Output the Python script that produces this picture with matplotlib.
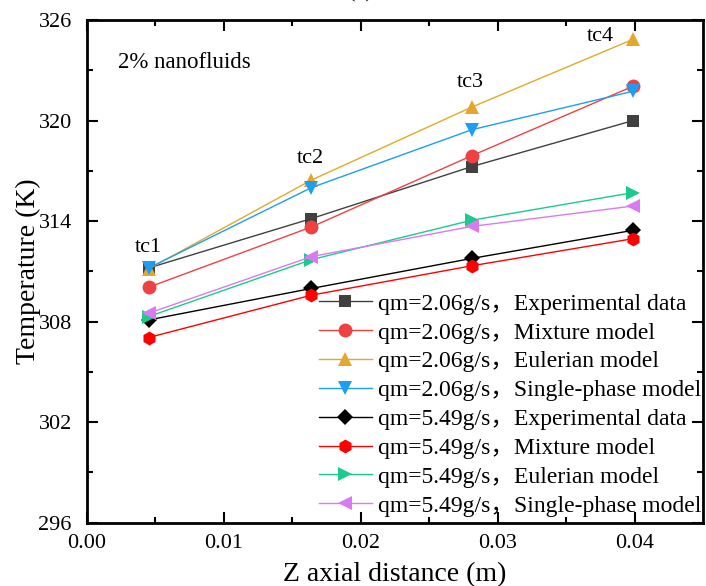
import numpy as np
import matplotlib
matplotlib.use("Agg")
import matplotlib.pyplot as plt

plt.rcParams['font.family'] = ['Liberation Serif', 'Noto Sans CJK SC']
plt.rcParams['mathtext.fontset'] = 'stix'

# axial positions of thermocouples tc1..tc4
z = [0.0045, 0.0164, 0.0281, 0.0399]
probe_names = ["tc1", "tc2", "tc3", "tc4"]

# qm = 2.06 g/s
exp_206 = [311.2, 314.15, 317.25, 320.0]
mix_206 = [310.05, 313.65, 317.9, 322.05]
eul_206 = [311.15, 316.45, 320.8, 324.85]
sp_206 = [311.2, 316.0, 319.45, 321.75]

# qm = 5.49 g/s
exp_549 = [308.1, 309.98, 311.77, 313.45]
mix_549 = [307.05, 309.58, 311.33, 312.95]
eul_549 = [308.3, 311.7, 314.05, 315.7]
sp_549 = [308.5, 311.88, 313.68, 314.9]

series = [
    (exp_206, "qm=2.06g/s，Experimental data", "#404040", "s"),
    (mix_206, "qm=2.06g/s，Mixture model", "#EF4141", "o"),
    (eul_206, "qm=2.06g/s，Eulerian model", "#E3A82B", "^"),
    (sp_206, "qm=2.06g/s，Single-phase model", "#1B9EF3", "v"),
    (exp_549, "qm=5.49g/s，Experimental data", "#000000", "D"),
    (mix_549, "qm=5.49g/s，Mixture model", "#FF0000", "h"),
    (eul_549, "qm=5.49g/s，Eulerian model", "#1CCB8C", ">"),
    (sp_549, "qm=5.49g/s，Single-phase model", "#D87BF2", "<"),
]

fig = plt.figure(figsize=(7.06, 5.86), dpi=100)
ax = fig.add_axes([0.1232, 0.108, 0.8726, 0.8579])

for vals, lab, col, mk in series:
    ms = 8 if mk == "D" else 10
    if mk == "s":
        ms = 9
    ax.plot(z, vals, color=col, marker=mk, markersize=ms, linewidth=1.0,
            markeredgewidth=0, label=lab)

# probe labels
label_y = [312.45, 317.75, 322.25, 325.0]
label_dx = [0.0, -0.0001, -0.0001, -0.0024]
for xi, yi, dx, name in zip(z, label_y, label_dx, probe_names):
    ax.text(xi + dx, yi, name, fontsize=16, ha='center', va='center')

ax.text(0.0023, 323.45, "2% nanofluids", fontsize=16.5, ha='left', va='center')

ax.set_xlim(0.0, 0.045)
ax.set_ylim(296, 326)
ax.set_xticks([0.00, 0.01, 0.02, 0.03, 0.04])
ax.set_xticklabels(["0.00", "0.01", "0.02", "0.03", "0.04"])
ax.set_xticks(np.arange(0.005, 0.045, 0.01), minor=True)
ax.set_yticks([296, 302, 308, 314, 320, 326])
ax.set_yticks([299, 305, 311, 317, 323], minor=True)

ax.tick_params(which='both', direction='in', top=True, right=True,
               labelsize=16, width=1.5)
ax.tick_params(which='major', length=8)
ax.tick_params(which='minor', length=4)
ax.tick_params(axis='x', pad=8)
ax.tick_params(axis='y', pad=11)
for sp in ax.spines.values():
    sp.set_linewidth(2.0)

ax.set_xlabel("Z axial distance (m)", fontsize=20)
ax.set_ylabel("Temperature (K)", fontsize=20)
ax.xaxis.set_label_coords(0.5, -0.078)
ax.yaxis.set_label_coords(-0.074, 0.5)

ax.legend(loc='lower right', bbox_to_anchor=(1.02, -0.016), frameon=False,
          fontsize=17, handlelength=2.25, handletextpad=0.25,
          labelspacing=0.31, borderaxespad=0.2)

fig.text(0.51, 1.012, "(a)", fontsize=16, ha='center', va='center')

fig.savefig("out.png", dpi=100)
